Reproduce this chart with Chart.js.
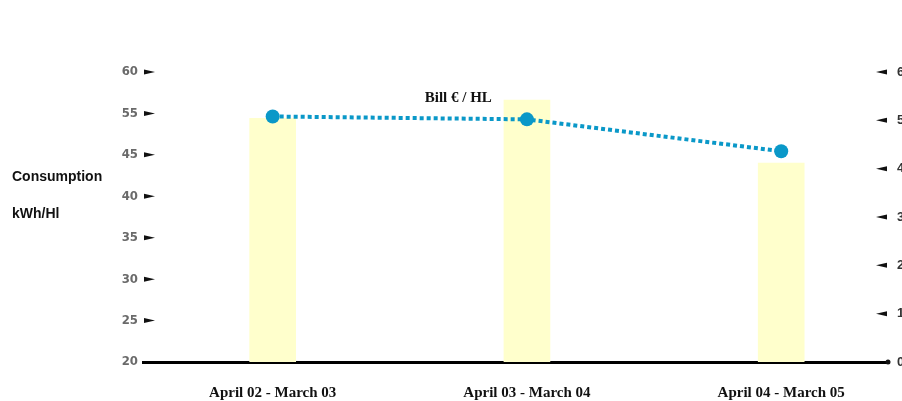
<!DOCTYPE html>
<html>
<head>
<meta charset="utf-8">
<script src="https://cdn.jsdelivr.net/npm/chart.js@4/dist/chart.umd.min.js"></script>
<style>
html,body{margin:0;padding:0;background:#fff;overflow:hidden;}
#wrap{width:902px;height:401px;position:relative;}
</style>
</head>
<body>
<div id="wrap"><canvas id="c" width="902" height="401"></canvas></div>
<script>
// ---- data ----
const categories = ["April 02 - March 03", "April 03 - March 04", "April 04 - March 05"];
const consumption = [49.4, 51.6, 44.0];      // bars, left axis units
const bill = [5.08, 5.02, 4.36];             // line, right axis (€ / HL)
const leftTickLabels = ["20", "25", "30", "35", "40", "45", "55", "60"];
const rightTickLabels = ["0", "1", "2", "3", "4", "5", "6"];
const leftTitleLines = ["Consumption", "kWh/Hl"];
const lineLabel = "Bill € / HL";

const barPoints = consumption.map((v, i) => ({x: i, y: v}));
const linePoints = bill.map((v, i) => ({x: i, y: v}));

const LINE_COLOR = "#0a98c8";
const BAR_COLOR = "#ffffcc";

const decor = {
  id: "decor",
  afterDraw(chart) {
    const ctx = chart.ctx;
    const y = chart.scales.y, y2 = chart.scales.y2, x = chart.scales.x;
    const area = chart.chartArea;
    ctx.save();
    ctx.fillStyle = "#111";
    y.ticks.forEach(t => {
      const py = y.getPixelForValue(t.value);
      if (t.value === y.min) return;
      ctx.beginPath();
      ctx.moveTo(area.left + 1, py - 2.5);
      ctx.lineTo(area.left + 12, py);
      ctx.lineTo(area.left + 1, py + 2.5);
      ctx.closePath();
      ctx.fill();
    });
    y2.ticks.forEach(t => {
      const py = y2.getPixelForValue(t.value);
      if (t.value === y2.min) return;
      ctx.beginPath();
      ctx.moveTo(area.right - 1, py - 2.5);
      ctx.lineTo(area.right - 12, py);
      ctx.lineTo(area.right - 1, py + 2.5);
      ctx.closePath();
      ctx.fill();
    });
    ctx.beginPath();
    ctx.arc(area.right, area.bottom, 2.5, 0, Math.PI * 2);
    ctx.fill();
    ctx.fillStyle = "#111";
    ctx.font = "bold 14px 'Liberation Sans', sans-serif";
    ctx.textBaseline = "middle";
    ctx.textAlign = "left";
    ctx.fillText(leftTitleLines[0], 12, 177);
    ctx.fillText(leftTitleLines[1], 12, 214);
    ctx.font = "bold 15px 'Liberation Serif', serif";
    ctx.textAlign = "center";
    ctx.fillText(lineLabel, x.getPixelForValue(0.73), y2.getPixelForValue(5.45));
    ctx.restore();
  }
};

new Chart(document.getElementById("c"), {
  data: {
    datasets: [
      {
        type: "line",
        label: lineLabel,
        data: linePoints,
        yAxisID: "y2",
        xAxisID: "x",
        borderColor: LINE_COLOR,
        backgroundColor: LINE_COLOR,
        borderWidth: 4,
        borderDash: [4, 3],
        pointRadius: 7,
        pointHoverRadius: 7,
        pointBorderWidth: 0,
        tension: 0,
        order: 0
      },
      {
        type: "bar",
        label: "Consumption",
        data: barPoints,
        yAxisID: "y",
        xAxisID: "x",
        backgroundColor: BAR_COLOR,
        borderWidth: 0,
        barThickness: 46,
        order: 1
      }
    ]
  },
  options: {
    responsive: false,
    animation: false,
    events: [],
    layout: {padding: {top: 72, left: 0, right: 0, bottom: 0}},
    plugins: {legend: {display: false}, tooltip: {enabled: false}},
    scales: {
      x: {
        type: "linear",
        offset: false,
        bounds: "ticks",
        min: -0.51,
        max: 2.42,
        grid: {display: false, drawTicks: false, offset: false},
        border: {display: true, color: "#000", width: 3},
        afterBuildTicks(scale) {
          scale.ticks = categories.map((c, i) => ({value: i}));
        },
        afterFit(scale) { scale.height = 39; },
        ticks: {
          padding: 22,
          color: "#111",
          font: {family: "'Liberation Serif', serif", size: 15, weight: "bold"},
          callback: (v) => categories[v],
          maxRotation: 0,
          autoSkip: false
        }
      },
      y: {
        type: "linear",
        position: "left",
        min: 20,
        max: 55,
        grid: {display: false, drawTicks: false},
        border: {display: false},
        afterFit(scale) { scale.width = 143; },
        ticks: {
          stepSize: 5,
          padding: 5,
          color: "#6a6a6a",
          font: {family: "'Liberation Sans Narrow', 'DejaVu Sans Condensed', sans-serif", size: 13, weight: "bold"},
          callback: (v) => leftTickLabels[Math.round((v - 20) / 5)]
        }
      },
      y2: {
        type: "linear",
        position: "right",
        min: 0,
        max: 6,
        grid: {display: false, drawTicks: false},
        border: {display: false},
        afterFit(scale) { scale.width = 14; },
        ticks: {
          stepSize: 1,
          padding: 9,
          color: "#333",
          font: {family: "'Liberation Sans Narrow', sans-serif", size: 13, weight: "bold"},
          callback: (v) => rightTickLabels[Math.round(v)]
        }
      }
    }
  },
  plugins: [decor]
});
</script>
</body>
</html>
